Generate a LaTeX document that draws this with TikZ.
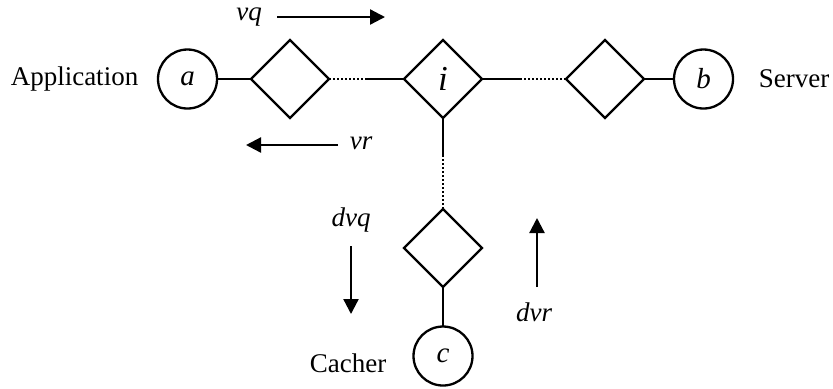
\documentclass[tikz,border=0pt]{standalone}
\usepackage{fontspec}
\setmainfont{Liberation Serif}
\usetikzlibrary{shapes.geometric,arrows.meta}
\begin{document}
\begin{tikzpicture}[x=0.5pt,y=-0.5pt,
  every node/.style={inner sep=0pt,outer sep=0pt},
  conn/.style={line width=1.15pt},
  dotline/.style={line width=1.15pt,dash pattern=on 0.9pt off 1.1pt},
  flow/.style={line width=1.15pt,-{Triangle[length=7.5pt,width=7.5pt]}},
  dia/.style={draw,line width=1.15pt,diamond,aspect=1,minimum width=39pt,minimum height=39pt},
  ent/.style={draw,line width=1.15pt,circle,minimum size=29.5pt,font=\fontsize{14.5}{16}\selectfont\itshape},
  lbl/.style={font=\fontsize{13.5}{15}\selectfont},
  ilbl/.style={font=\fontsize{13.5}{15}\selectfont\itshape}]
\useasboundingbox (0,0) rectangle (833,388);
% nodes
\node[ent] (a) at (187.5,79) {a};
\node[dia] (d1) at (290,79) {};
\node[dia,font=\fontsize{17.5}{19}\selectfont\itshape] (i) at (443,79) {i};
\node[dia] (d3) at (605,79) {};
\node[ent] (b) at (703.5,79) {b};
\node[dia] (d4) at (443,248) {};
\node[ent] (c) at (443,356) {c};
% junction coordinates
\coordinate (j1) at (365,79);
\coordinate (j2) at (520,79);
\coordinate (j3) at (443,155);
% connectors
\draw[conn] (a.east) -- (d1.west);
\draw[dotline] (d1.east) -- (j1);
\draw[conn] (j1) -- (i.west);
\draw[conn] (i.east) -- (j2);
\draw[dotline] (j2) -- (d3.west);
\draw[conn] (d3.east) -- (b.west);
\draw[conn] (i.south) -- (j3);
\draw[dotline] (j3) -- (d4.north);
\draw[conn] (d4.south) -- (c.north);
% labels
\node[lbl] (app) at (74.5,79) {Application};
\node[lbl] (srv) at (794,79) {Server};
\node[lbl] (cch) at (348,363) {Cacher};
% flow arrows
\node[ilbl] (vq) at (249,17) {vq};
\coordinate (vq1) at (277,17);
\coordinate (vq2) at (385,17);
\draw[flow] (vq1) -- (vq2);
\node[ilbl] (vr) at (361,143) {vr};
\coordinate (vr1) at (338,145);
\coordinate (vr2) at (246,145);
\draw[flow] (vr1) -- (vr2);
\node[ilbl] (dvq) at (351,220) {dvq};
\coordinate (dvq1) at (351,246);
\coordinate (dvq2) at (351,314);
\draw[flow] (dvq1) -- (dvq2);
\node[ilbl] (dvr) at (534,312) {dvr};
\coordinate (dvr1) at (537,287);
\coordinate (dvr2) at (537,218);
\draw[flow] (dvr1) -- (dvr2);
\end{tikzpicture}
\end{document}
